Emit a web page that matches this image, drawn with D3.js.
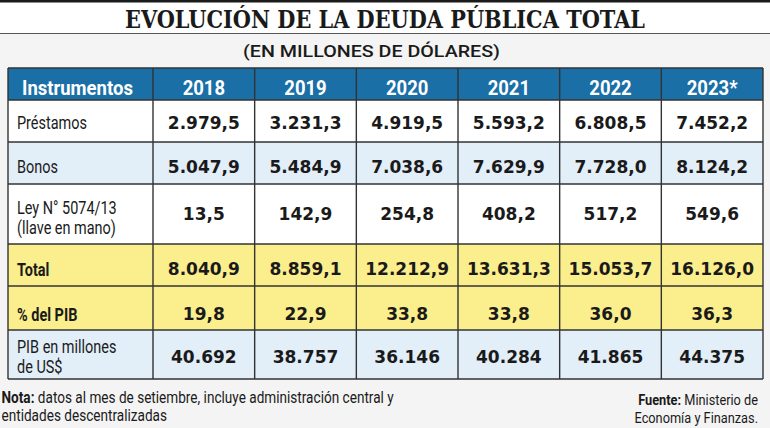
<!DOCTYPE html>
<html><head><meta charset="utf-8">
<script src="https://cdn.jsdelivr.net/npm/d3@7"></script>
<style>html,body{margin:0;padding:0;background:#fff;}svg{display:block;}</style>
</head><body>
<script>
const years = ["2018","2019","2020","2021","2022","2023*"];
const rowLabels = [["Préstamos"],["Bonos"],["Ley N° 5074/13","(llave en mano)"],["Total"],["% del PIB"],["PIB en millones","de US$"]];
const prestamos = [2979.5, 3231.3, 4919.5, 5593.2, 6808.5, 7452.2];
const bonos = [5047.9, 5484.9, 7038.6, 7629.9, 7728.0, 8124.2];
const ley = [13.5, 142.9, 254.8, 408.2, 517.2, 549.6];
const total = [8040.9, 8859.1, 12212.9, 13631.3, 15053.7, 16126.0];
const pctPib = [19.8, 22.9, 33.8, 33.8, 36.0, 36.3];
const pib = [40692, 38757, 36146, 40284, 41865, 44375];
const series = [prestamos, bonos, ley, total, pctPib, pib];

const W = 770, H = 428;
const loc = d3.formatLocale({decimal: ",", thousands: ".", grouping: [3], currency: ["", ""]});
const f1 = loc.format(",.1f"), f0 = loc.format(",.0f");
const fmts = [f1, f1, f1, f1, f1, f0];

const svg = d3.select("body").append("svg").attr("width", W).attr("height", H);
svg.append("rect").attr("width", W).attr("height", H).attr("fill", "#f4f4f4");
svg.append("rect").attr("width", W).attr("height", 34).attr("fill", "#fff");
svg.append("rect").attr("width", W).attr("height", 2.5).attr("fill", "#1a1a1a");
svg.append("line").attr("x1", 0).attr("x2", W).attr("y1", 33.5).attr("y2", 33.5).attr("stroke", "#555").attr("stroke-width", 1);

const narrow = "Roboto, Liberation Sans, sans-serif";
const numFont = "DejaVu Sans, Verdana, sans-serif";

function factor(str, size, weight, target) {
  const t = svg.append("text").attr("font-family", narrow).attr("font-size", size).attr("font-weight", weight).text(str);
  const w = t.node().getComputedTextLength();
  t.remove();
  return target / w;
}
function ctext(parent, x, y, k, opts) {
  return parent.append("text")
    .attr("transform", `translate(${x},${y}) scale(${k},1)`)
    .attr("font-family", opts.family || narrow)
    .attr("font-size", opts.size).attr("font-weight", opts.weight || 400)
    .attr("text-anchor", opts.anchor || "start").attr("fill", opts.fill || "#1a1a1a");
}

svg.append("text").attr("x", 385).attr("y", 28).attr("text-anchor", "middle")
  .attr("font-family", "DejaVu Serif, Liberation Serif, serif").attr("font-weight", 700)
  .attr("font-size", 25).attr("fill", "#1a1a1a")
  .attr("textLength", 520).attr("lengthAdjust", "spacingAndGlyphs")
  .text("EVOLUCIÓN DE LA DEUDA PÚBLICA TOTAL");
svg.append("text").attr("x", 371.5).attr("y", 56.5).attr("text-anchor", "middle")
  .attr("font-family", narrow).attr("font-weight", 500)
  .attr("font-size", 17).attr("fill", "#1a1a1a")
  .attr("textLength", 257).attr("lengthAdjust", "spacingAndGlyphs")
  .text("(EN MILLONES DE DÓLARES)");

const left = 8, labelRight = 153, right = 763;
const x = d3.scaleBand().domain(years).range([labelRight, right]);
const headerTop = 68, headerBot = 100;
const rowH = [42, 42, 60, 42, 44, 49];
const rowTop = rowH.reduce((a, h, i) => { a.push(a[i] + h); return a; }, [headerBot]);
const fills = ["#ffffff", "#e2eef8", "#ffffff", "#fbee8c", "#fbee8c", "#e2eef8"];
const boldLabel = [false, false, false, true, true, false];

const kHead = factor("Instrumentos", 21, 700, 111);
const kLab = factor("Préstamos", 18, 400, 70);
const kNote = factor("Nota: datos al mes de setiembre, incluye administración central y", 16.5, 400, 392);

// header
svg.append("rect").attr("x", left).attr("y", headerTop).attr("width", right - left).attr("height", headerBot - headerTop).attr("fill", "#1a6fa6");
ctext(svg, 22, 94.5, kHead, {size: 21, weight: 700, fill: "#fff"}).text("Instrumentos");
years.forEach(yr => ctext(svg, x(yr) + x.bandwidth() / 2, 94.5, kHead, {size: 21, weight: 700, fill: "#fff", anchor: "middle"}).text(yr));

// rows
svg.selectAll("rect.row").data(rowLabels).join("rect").attr("class", "row")
  .attr("x", left).attr("y", (d, i) => rowTop[i]).attr("width", right - left)
  .attr("height", (d, i) => rowH[i]).attr("fill", (d, i) => fills[i]);

const numBase = [129, 172.5, 220, 275, 320, 363];
const labBase = [[129], [172.5], [213.5], [275.5], [320.5], [352.5]];
const lineGap = 20;
rowLabels.forEach((lines, i) => {
  lines.forEach((l, k) => {
    ctext(svg, 17, labBase[i][0] + k * lineGap, kLab, {size: 18, weight: boldLabel[i] ? 700 : 400}).text(l);
  });
  svg.selectAll(null).data(series[i]).join("text")
    .attr("x", (d, j) => x(years[j]) + x.bandwidth() / 2)
    .attr("y", numBase[i]).attr("text-anchor", "middle")
    .attr("font-family", numFont).attr("font-weight", 700).attr("font-size", 17)
    .attr("fill", "#1a1a1a").text(d => fmts[i](d));
});

// grid lines
const gridColor = "#333";
const vx = [left, labelRight].concat(years.map(y => x(y) + x.bandwidth()));
svg.selectAll("line.v").data(vx).join("line").attr("class", "v")
  .attr("x1", d => d).attr("x2", d => d).attr("y1", headerTop).attr("y2", rowTop[rowTop.length - 1])
  .attr("stroke", gridColor).attr("stroke-width", 1.4);
svg.selectAll("line.h").data([headerTop].concat(rowTop)).join("line").attr("class", "h")
  .attr("x1", left).attr("x2", right).attr("y1", d => d).attr("y2", d => d)
  .attr("stroke", gridColor).attr("stroke-width", 1.4);

// footer
const n1 = ctext(svg, 1.5, 403, kNote, {size: 16.5});
n1.append("tspan").attr("font-weight", 700).text("Nota:");
n1.append("tspan").text(" datos al mes de setiembre, incluye administración central y");
ctext(svg, 1.5, 421, kNote, {size: 16.5}).text("entidades descentralizadas");

const fu1 = ctext(svg, 758, 405, kNote, {size: 15.5, anchor: "end"});
fu1.append("tspan").attr("font-weight", 700).text("Fuente:");
fu1.append("tspan").text(" Ministerio de");
ctext(svg, 758, 422.5, kNote, {size: 15.5, anchor: "end"}).text("Economía y Finanzas.");
</script>
</body></html>
